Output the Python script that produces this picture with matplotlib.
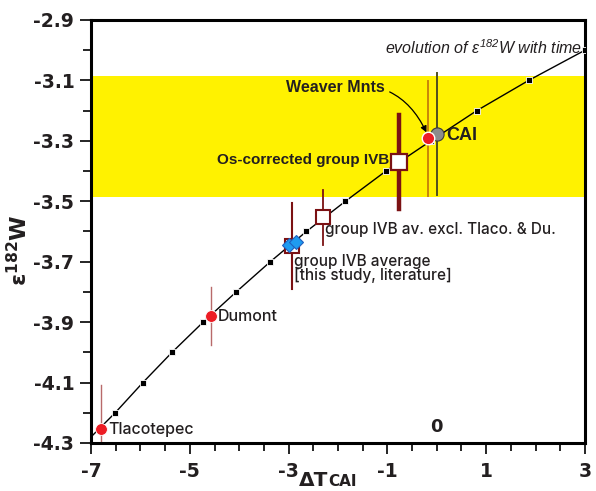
import matplotlib
matplotlib.use("Agg")
from matplotlib import pyplot as plt
from matplotlib.ticker import MultipleLocator, FixedLocator

# evolution curve of e182W vs time (one marker per 0.1 eps)
curve_x = [-7.0, -6.51, -5.95, -5.36, -4.73, -4.06, -3.37, -2.64, -1.85, -1.03, -0.12, 0.81, 1.86, 3.0]
curve_y = [-4.28, -4.2, -4.1, -4.0, -3.9, -3.8, -3.7, -3.6, -3.5, -3.4, -3.3, -3.2, -3.1, -3.0]

# CAI band
band_lo = -3.487
band_hi = -3.085

# samples: x (dT CAI), y (e182W), error
tlaco = (-6.80, -4.255, 0.147)
dumont = (-4.57, -3.88, 0.096)
ivb_avg = (-2.94, -3.648, 0.142)
ivb_blue_x = [-2.99, -2.85]
ivb_blue_y = [-3.645, -3.635]
ivb_excl = (-2.31, -3.553, 0.091)
os_corr = (-0.77, -3.37, 0.155)
weaver = (-0.18, -3.292, 0.19)
cai = (0.0, -3.277, 0.202)

x_labels = [-7, -5, -3, -1, 1, 3]
y_labels = [-2.9, -3.1, -3.3, -3.5, -3.7, -3.9, -4.1, -4.3]

plt.rcParams['mathtext.fontset'] = 'custom'
plt.rcParams['mathtext.bf'] = 'DejaVu Sans:bold'
plt.rcParams['mathtext.it'] = 'Liberation Sans:italic'
plt.rcParams['mathtext.rm'] = 'Liberation Sans:italic'

txt = '#231f20'
dark_red = '#7b1113'
lab_font = 'Inter'

fig = plt.figure(figsize=(5.96, 4.91), dpi=100)
ax = fig.add_axes([0.1527, 0.0978, 0.8288, 0.8615])

ax.set_xlim(-7, 3)
ax.set_ylim(-4.3, -2.9)

# yellow CAI band
ax.axhspan(band_lo, band_hi, color='#fff200', zorder=0, lw=0)

# evolution line + small squares
ax.plot(curve_x, curve_y, color='black', lw=1, zorder=2)
ax.plot(curve_x[1:], curve_y[1:], 's', color='black', ms=4, mec='white', mew=0.6, zorder=3)

# error bars
ax.plot([tlaco[0]] * 2, [tlaco[1] - tlaco[2], tlaco[1] + tlaco[2]], color='#b86a6a', lw=1, zorder=2)
ax.plot([dumont[0]] * 2, [dumont[1] - dumont[2], dumont[1] + dumont[2]], color='#b86a6a', lw=1, zorder=2)
ax.plot([ivb_avg[0]] * 2, [ivb_avg[1] - ivb_avg[2], ivb_avg[1] + ivb_avg[2]], color=dark_red, lw=1.5, zorder=2)
ax.plot([ivb_excl[0]] * 2, [ivb_excl[1] - ivb_excl[2], ivb_excl[1] + ivb_excl[2]], color=dark_red, lw=1.3, zorder=2)
ax.plot([os_corr[0]] * 2, [os_corr[1] - os_corr[2], os_corr[1] + os_corr[2]], color=dark_red, lw=3.2, zorder=2)
ax.plot([weaver[0]] * 2, [weaver[1] - weaver[2], weaver[1] + weaver[2]], color='#c8860a', lw=1.4, zorder=2)
ax.plot([cai[0]] * 2, [cai[1] - cai[2], cai[1] + cai[2]], color='#4f4f1f', lw=1.4, zorder=2)

# markers
ax.plot(tlaco[0], tlaco[1], 'o', color='#ed1c24', ms=8.5, mec='white', mew=0.6, zorder=5)
ax.plot(dumont[0], dumont[1], 'o', color='#ed1c24', ms=8.5, mec='white', mew=0.6, zorder=5)
ax.plot(ivb_avg[0], ivb_avg[1], 's', color='white', ms=10, mec=dark_red, mew=1.5, zorder=4)
ax.plot(ivb_blue_x, ivb_blue_y, 'D', color='#1e9bf0', ms=7.5, mec='#1f5fbf', mew=0.8, zorder=5)
ax.plot(ivb_excl[0], ivb_excl[1], 's', color='white', ms=10.5, mec=dark_red, mew=1.5, zorder=4)
ax.plot(os_corr[0], os_corr[1], 's', color='white', ms=11.5, mec=dark_red, mew=1.6, zorder=4)
ax.plot(cai[0], cai[1], 'o', color='#8c8c8c', ms=9.5, mec='#3a3a3a', mew=0.8, zorder=5)
ax.plot(weaver[0], weaver[1], 'o', color='#ed1c24', ms=9, mec='white', mew=1.0, zorder=6)

# labels
ax.text(-6.66, -4.254, 'Tlacotepec', fontsize=11.5, color=txt, va='center', ha='left', family=lab_font, weight='medium')
ax.text(-4.43, -3.88, 'Dumont', fontsize=11.5, color=txt, va='center', ha='left', family=lab_font, weight='medium')
ax.text(-2.89, -3.676, 'group IVB average\n[this study, literature]', fontsize=11, color=txt,
        va='top', ha='left', family=lab_font, weight='medium', linespacing=0.85)
ax.text(-2.27, -3.595, 'group IVB av. excl. Tlaco. & Du.', fontsize=11, color=txt,
        va='center', ha='left', family=lab_font, weight='medium')
ax.text(-0.97, -3.364, 'Os-corrected group IVB', fontsize=11, color=txt, va='center', ha='right',
        family='Liberation Sans', weight='bold')
ax.text(0.2, -3.283, 'CAI', fontsize=13, color=txt, va='center', ha='left',
        family='Liberation Sans', weight='bold')
ax.annotate('Weaver Mnts', xy=(weaver[0] - 0.03, weaver[1] + 0.02), xytext=(-3.06, -3.125),
            fontsize=11.5, color=txt, va='center', ha='left', family='Liberation Sans', weight='bold',
            arrowprops=dict(arrowstyle='-|>', color='black', lw=0.9, mutation_scale=9,
                            shrinkA=2, shrinkB=0, connectionstyle='arc3,rad=-0.4'),
            zorder=7)
ax.text(2.94, -2.99, r'evolution of $\mathit{ε}^{\mathit{182}}\mathit{W}$ with time', fontsize=11.5,
        color=txt, style='italic', va='center', ha='right', family='Liberation Sans')
ax.text(0, -4.248, '0', fontsize=13, color=txt, weight='bold', ha='center', va='center')

# axes styling
for s in ax.spines.values():
    s.set_linewidth(2.2)
    s.set_color('black')

ax.xaxis.set_major_locator(FixedLocator(x_labels))
ax.xaxis.set_minor_locator(MultipleLocator(0.5))
ax.yaxis.set_major_locator(FixedLocator(y_labels))
ax.yaxis.set_minor_locator(MultipleLocator(0.1))
ax.set_xticklabels([str(v) for v in x_labels])
ax.set_yticklabels(['%.1f' % v for v in y_labels])
ax.tick_params(which='both', direction='out', width=1.2, top=False, right=False)
ax.tick_params(which='major', length=8)
ax.tick_params(which='minor', length=6)
ax.tick_params(axis='y', which='major', pad=4, labelsize=13.5)
ax.tick_params(axis='x', which='major', pad=6, labelsize=13.5)
for lab in ax.get_xticklabels() + ax.get_yticklabels():
    lab.set_fontweight('bold')
    lab.set_color(txt)

ax.set_ylabel(r'$\mathbf{ε^{182}W}$', fontsize=16, color=txt)
ax.yaxis.set_label_coords(-0.121, 0.456)

# x axis label: dT + small caps CAI
fig.text(328 / 596, 1 - 486 / 491, 'ΔT', fontsize=14.5, weight='bold', color=txt, ha='right', va='baseline')
fig.text(328 / 596, 1 - 486 / 491, 'CAI', fontsize=11, weight='bold', color=txt, ha='left', va='baseline')

fig.savefig('out.png', dpi=100)
